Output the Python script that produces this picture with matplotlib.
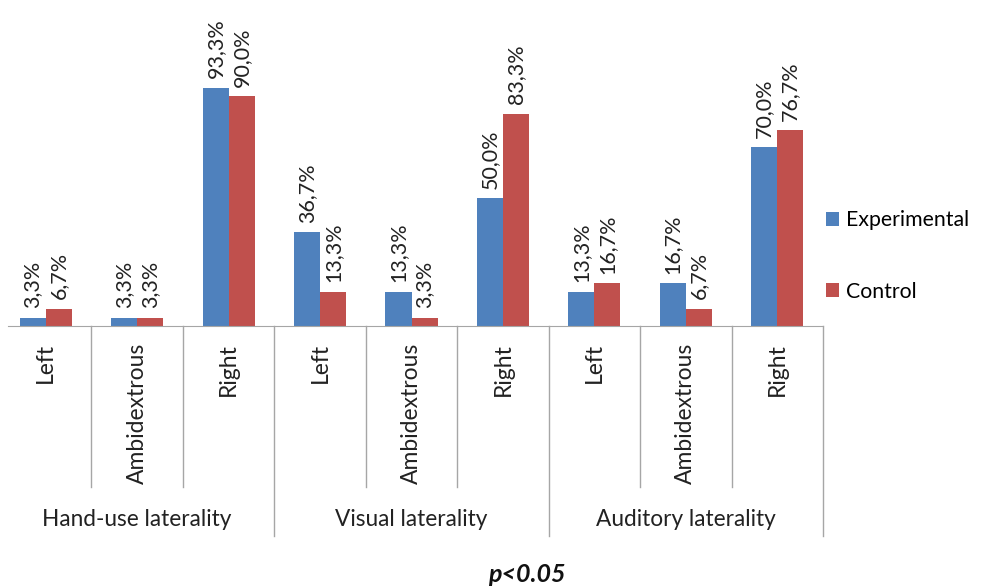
import numpy as np
import matplotlib.pyplot as plt

plt.rcParams['font.family'] = ['Lato', 'DejaVu Sans']

categories = ['Left', 'Ambidextrous', 'Right'] * 3
groups = ['Hand-use laterality', 'Visual laterality', 'Auditory laterality']
experimental = [3.3, 3.3, 93.3, 36.7, 13.3, 50.0, 13.3, 16.7, 70.0]
control = [6.7, 3.3, 90.0, 13.3, 3.3, 83.3, 16.7, 6.7, 76.7]

blue = '#4F81BD'
red = '#C0504D'
grey = '#A6A6A6'

fig = plt.figure(figsize=(9.81, 5.87), dpi=100)
ax = fig.add_axes([0, 261 / 587, 823 / 981, 326 / 587])

x = np.arange(len(categories))
w = 0.285
b1 = ax.bar(x - w / 2, experimental, w, color=blue, label='Experimental')
b2 = ax.bar(x + w / 2, control, w, color=red, label='Control')

def fmt(v):
    return f"{v:.1f}%".replace('.', ',')

for bars, vals in [(b1, experimental), (b2, control)]:
    for bar, v in zip(bars, vals):
        ax.annotate(fmt(v), (bar.get_x() + bar.get_width() / 2, v),
                    xytext=(0, 7), textcoords='offset points',
                    rotation=90, ha='center', va='bottom', fontsize=15.5, color='#222222')

ax.set_xlim(-0.5, 8.5)
ax.set_ylim(0, 127.8)
ax.set_yticks([])
for s in ['top', 'right', 'left']:
    ax.spines[s].set_visible(False)
ax.spines['bottom'].set_color(grey)
ax.spines['bottom'].set_bounds(-0.5 + 8 / 91.4, 8.5)

ax.set_xticks(x)
ax.set_xticklabels(categories, rotation=90, va='top', fontsize=16.5, color='#222222')
ax.tick_params(axis='x', length=0, pad=12)

tr = ax.get_xaxis_transform()
for b in [0.5, 1.5, 3.5, 4.5, 6.5, 7.5]:
    ax.plot([b, b], [0, -0.494], color=grey, lw=1, transform=tr, clip_on=False)
for b in [2.5, 5.5, 8.5]:
    ax.plot([b, b], [0, -0.644], color=grey, lw=1, transform=tr, clip_on=False)

for i, g in enumerate(groups):
    ax.text(3 * i + 1, -0.595, g, transform=tr, ha='center', va='center',
            fontsize=16.3, color='#222222')

fig.legend(handles=[b1, b2], loc='center left', bbox_to_anchor=(826 / 981, 1 - 256 / 587),
           frameon=False, fontsize=15.3, handlelength=0.6, handleheight=0.6,
           handletextpad=0.35, labelspacing=2.4, borderpad=0, borderaxespad=0)

fig.text(527 / 981, 1 - 575 / 587, 'p<0.05', ha='center', va='center',
         fontsize=18, fontweight='bold', fontstyle='italic', color='#111111')

fig.savefig('out.png', dpi=100)
